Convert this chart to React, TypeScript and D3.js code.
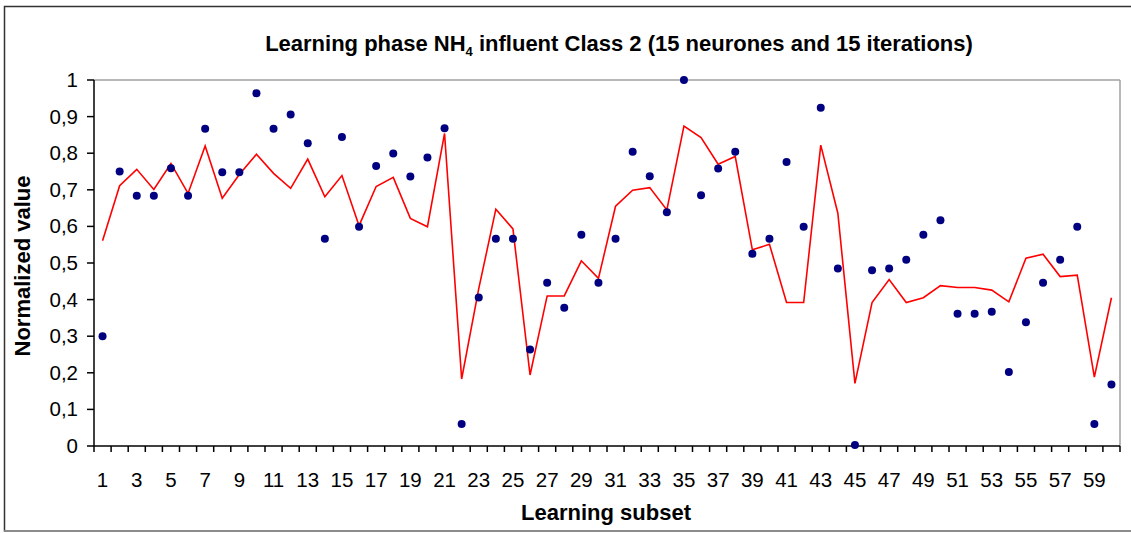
import React from "react";
import * as d3 from "d3";

const subsets: number[] = Array.from({ length: 60 }, (_, i) => i + 1);

const observed: number[] = [
  0.30, 0.75, 0.684, 0.684, 0.759, 0.684, 0.867, 0.748, 0.748, 0.964,
  0.867, 0.906, 0.827, 0.566, 0.844, 0.599, 0.765, 0.799, 0.736, 0.788,
  0.868, 0.06, 0.406, 0.566, 0.566, 0.264, 0.446, 0.378, 0.577, 0.446,
  0.566, 0.804, 0.737, 0.639, 1.0, 0.685, 0.758, 0.804, 0.525, 0.566,
  0.776, 0.599, 0.924, 0.485, 0.003, 0.48, 0.485, 0.509, 0.577, 0.617,
  0.361, 0.361, 0.367, 0.202, 0.338, 0.446, 0.509, 0.599, 0.06, 0.168,
];

const predicted: number[] = [
  0.561, 0.711, 0.756, 0.701, 0.772, 0.69, 0.82, 0.677, 0.742, 0.797,
  0.745, 0.704, 0.784, 0.681, 0.739, 0.602, 0.709, 0.734, 0.622, 0.599,
  0.854, 0.183, 0.43, 0.647, 0.593, 0.194, 0.41, 0.41, 0.506, 0.458,
  0.655, 0.699, 0.706, 0.645, 0.874, 0.843, 0.77, 0.791, 0.536, 0.551,
  0.392, 0.392, 0.822, 0.636, 0.171, 0.392, 0.455, 0.392, 0.405, 0.438,
  0.433, 0.433, 0.426, 0.394, 0.513, 0.524, 0.463, 0.467, 0.188, 0.405,
];

const yTicks: number[] = [0, 0.1, 0.2, 0.3, 0.4, 0.5, 0.6, 0.7, 0.8, 0.9, 1];
const xTickLabels: number[] = subsets.filter((d) => d % 2 === 1);

const W = 1131;
const H = 533;
const FONT = "'Liberation Sans', Arial, sans-serif";

export default function App() {
  const left = 94;
  const right = 1120;
  const top = 80;
  const bottom = 446;

  const x = d3
    .scaleBand<number>()
    .domain(subsets)
    .range([left, right])
    .paddingInner(0)
    .paddingOuter(0);
  const y = d3.scaleLinear().domain([0, 1]).range([bottom, top]);
  const cx = (d: number) => (x(d) as number) + x.bandwidth() / 2;

  const line = d3
    .line<number>()
    .x((_, i) => cx(subsets[i]))
    .y((v) => y(v));

  const fmt = (v: number) => (v === 0 || v === 1 ? String(v) : v.toFixed(1).replace(".", ","));

  const boundaries = d3.range(0, subsets.length + 1).map((i) => left + i * x.bandwidth());

  return (
    <svg
      width={W}
      height={H}
      style={{ position: "absolute", left: 0, top: 0, background: "#fff" }}
      fontFamily={FONT}
    >
      {/* outer chart frame */}
      <rect x={4.5} y={6.5} width={1140} height={524.5} fill="#fff" stroke="#333" strokeWidth={1.5} />
      <line x1={4} y1={531} x2={1131} y2={531} stroke="#999" strokeWidth={1.5} />

      {/* title */}
      <text x={619} y={51} textAnchor="middle" fontSize={22} fontWeight="bold" fill="#000">
        Learning phase NH
        <tspan fontSize={13} dy={5}>4</tspan>
        <tspan dy={-5}> influent Class 2 (15 neurones and 15 iterations)</tspan>
      </text>

      {/* plot area border (top/right grey) */}
      <line x1={left} y1={top} x2={right} y2={top} stroke="#a0a0a0" strokeWidth={1.5} />
      <line x1={right} y1={top} x2={right} y2={bottom} stroke="#a0a0a0" strokeWidth={1.5} />

      {/* axes */}
      <line x1={left} y1={top} x2={left} y2={bottom} stroke="#000" strokeWidth={1.5} />
      <line x1={left} y1={bottom} x2={right} y2={bottom} stroke="#000" strokeWidth={1.5} />

      {yTicks.map((t) => (
        <g key={"yt" + t}>
          <line x1={left - 7} y1={y(t)} x2={left} y2={y(t)} stroke="#000" strokeWidth={1.5} />
          <text x={78} y={y(t) + 7} textAnchor="end" fontSize={20.5} fill="#000">
            {fmt(t)}
          </text>
        </g>
      ))}

      {boundaries.map((bx, i) => (
        <line key={"xt" + i} x1={bx} y1={bottom} x2={bx} y2={bottom + 6} stroke="#000" strokeWidth={1.5} />
      ))}

      {xTickLabels.map((d) => (
        <text key={"xl" + d} x={cx(d)} y={487} textAnchor="middle" fontSize={20.5} fill="#000">
          {d}
        </text>
      ))}

      {/* axis titles */}
      <text
        transform={`translate(30, 266) rotate(-90)`}
        textAnchor="middle"
        fontSize={22}
        fontWeight="bold"
        fill="#000"
      >
        Normalized value
      </text>
      <text x={606} y={520} textAnchor="middle" fontSize={22} fontWeight="bold" fill="#000">
        Learning subset
      </text>

      {/* predicted line */}
      <path d={line(predicted) as string} fill="none" stroke="#ff0000" strokeWidth={1.6} />

      {/* observed points */}
      {observed.map((v, i) => (
        <circle key={"p" + i} cx={cx(subsets[i])} cy={y(v)} r={4} fill="#000080" />
      ))}
    </svg>
  );
}
